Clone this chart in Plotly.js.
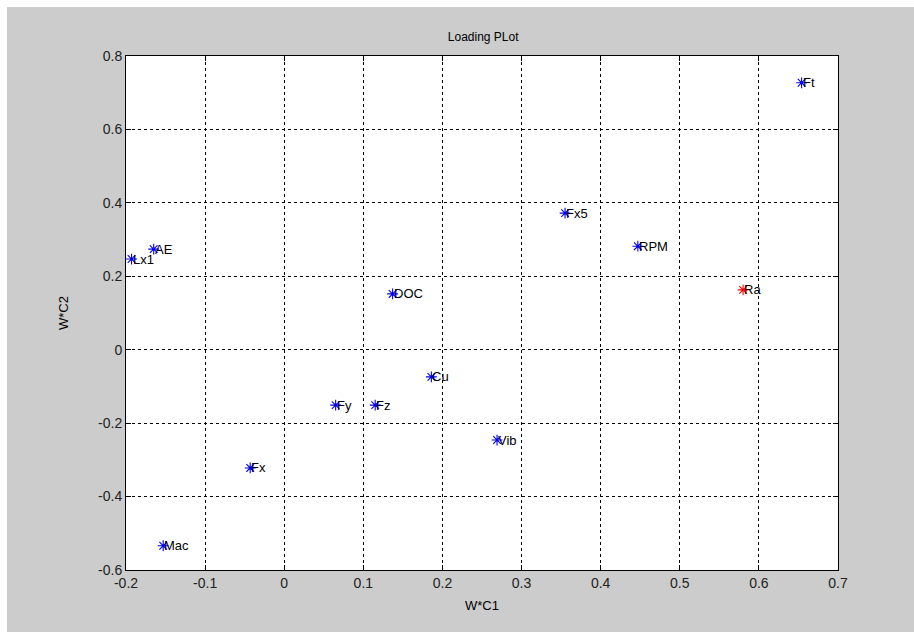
<!DOCTYPE html>
<html>
<head>
<meta charset="utf-8">
<script src="https://cdn.plot.ly/plotly-3.0.1.min.js"></script>
<style>
html,body{margin:0;padding:0;background:#ffffff;}
#plot{position:absolute;left:7px;top:7px;width:907px;height:625px;}
</style>
</head>
<body>
<div id="plot"></div>
<script>
const labels = ["Ft","Fx5","RPM","AE","Lx1","DOC","Cu","Fy","Fz","Vib","Fx","Mac"];
const xVals  = [0.654, 0.355, 0.447, -0.165, -0.193, 0.137, 0.186, 0.065, 0.115, 0.269, -0.043, -0.153];
const yVals  = [0.727, 0.372, 0.282, 0.274, 0.247, 0.152, -0.074, -0.151, -0.151, -0.246, -0.322, -0.534];
const redLabels = ["Ra"];
const redX = [0.58];
const redY = [0.163];

const xTicks = [-0.2,-0.1,0,0.1,0.2,0.3,0.4,0.5,0.6,0.7];
const xTickText = ["-0.2","-0.1","0","0.1","0.2","0.3","0.4","0.5","0.6","0.7"];
const yTicks = [-0.6,-0.4,-0.2,0,0.2,0.4,0.6,0.8];
const yTickText = ["-0.6","-0.4","-0.2","0","0.2","0.4","0.6","0.8"];

const font = "Liberation Sans, Arial, Helvetica, sans-serif";

const traces = [
  {x:xVals, y:yVals, mode:"markers", type:"scatter",
   marker:{symbol:"asterisk-open", size:9, color:"#0000ff", line:{color:"#0000ff", width:1.1}},
   hoverinfo:"none", showlegend:false},
  {x:redX, y:redY, mode:"markers", type:"scatter",
   marker:{symbol:"asterisk-open", size:9, color:"#ff0000", line:{color:"#ff0000", width:1.1}},
   hoverinfo:"none", showlegend:false}
];

const annotations = [];
labels.forEach((t,i)=>annotations.push({x:xVals[i], y:yVals[i], text:t, xref:"x", yref:"y",
  xanchor:"left", yanchor:"middle", showarrow:false, xshift:-1, font:{family:font, size:13, color:"#000"}}));
redLabels.forEach((t,i)=>annotations.push({x:redX[i], y:redY[i], text:t, xref:"x", yref:"y",
  xanchor:"left", yanchor:"middle", showarrow:false, xshift:-1, font:{family:font, size:13, color:"#000"}}));

const axisCommon = {
  showline:true, linecolor:"#000", linewidth:1, mirror:"ticks",
  ticks:"inside", ticklen:5, tickcolor:"#000", tickwidth:1,
  showgrid:true, gridcolor:"#000", gridwidth:1, griddash:"dot",
  zeroline:false, tickmode:"array",
  tickfont:{family:font, size:14, color:"#222"}, fixedrange:true
};

const layout = {
  width:907, height:625,
  paper_bgcolor:"#cccccc", plot_bgcolor:"#ffffff",
  margin:{l:119, r:76, t:49, b:62},
  title:{text:"Loading PLot", font:{family:font, size:12, color:"#000"}, x:0.525, xanchor:"center", y:0.952, yanchor:"middle"},
  xaxis:Object.assign({}, axisCommon, {range:[-0.2,0.7], tickvals:xTicks, ticktext:xTickText,
    title:{text:"W*C1", font:{family:font, size:13, color:"#000"}, standoff:11}}),
  yaxis:Object.assign({}, axisCommon, {range:[-0.6,0.8], tickvals:yTicks, ticktext:yTickText,
    title:{text:"W*C2", font:{family:font, size:13, color:"#000"}, standoff:26}}),
  annotations:annotations
};

Plotly.newPlot("plot", traces, layout, {displayModeBar:false, staticPlot:true});
</script>
</body>
</html>
